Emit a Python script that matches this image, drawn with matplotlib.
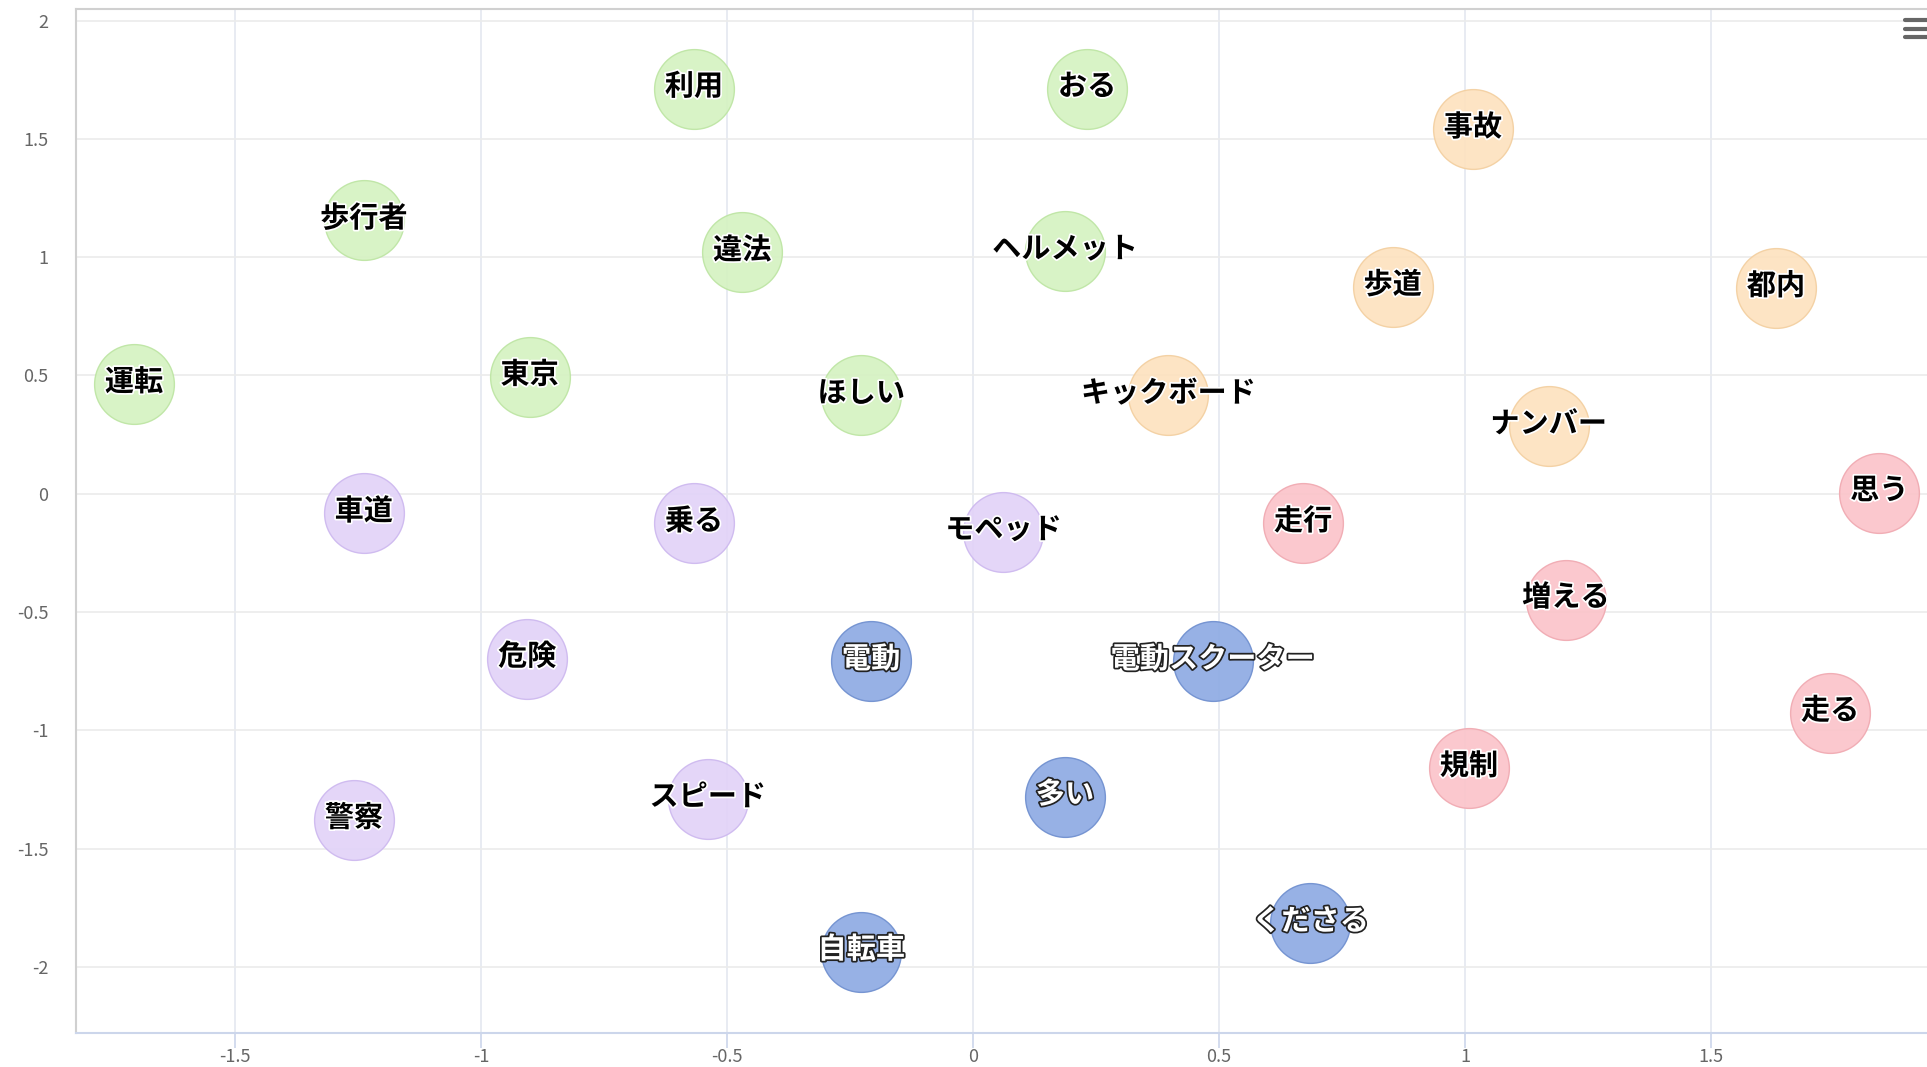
"""Word-embedding style bubble chart (5 clusters of Japanese words)
"""
import matplotlib
matplotlib.use('Agg')
import matplotlib.pyplot as plt
import matplotlib.patheffects as pe
from matplotlib.lines import Line2D

plt.rcParams['font.family'] = ['Noto Sans CJK JP', 'DejaVu Sans']

# Data: one list per cluster
green_words = ['利用', 'おる', '歩行者', '違法', 'ヘルメット', '運転', '東京', 'ほしい']
green_x = [-0.567, 0.232, -1.238, -0.469, 0.187, -1.705, -0.901, -0.227]
green_y = [1.712, 1.712, 1.155, 1.020, 1.025, 0.463, 0.494, 0.416]

orange_words = ['事故', '歩道', '都内', 'キックボード', 'ナンバー']
orange_x = [1.016, 0.853, 1.632, 0.397, 1.170]
orange_y = [1.540, 0.874, 0.869, 0.416, 0.286]

red_words = ['思う', '走行', '増える', '走る', '規制']
red_x = [1.842, 0.671, 1.205, 1.742, 1.008]
red_y = [0.005, -0.125, -0.447, -0.926, -1.160]

purple_words = ['車道', '乗る', 'モペッド', '危険', 'スピード', '警察']
purple_x = [-1.238, -0.567, 0.062, -0.906, -0.539, -1.258]
purple_y = [-0.083, -0.125, -0.161, -0.697, -1.290, -1.379]

blue_words = ['電動', '電動スクーター', '多い', 'くださる', '自転車']
blue_x = [-0.207, 0.487, 0.187, 0.686, -0.227]
blue_y = [-0.708, -0.708, -1.280, -1.816, -1.935]

clusters = [
    (green_words, green_x, green_y, '#d5f2c2', '#bde5a3', False),
    (orange_words, orange_x, orange_y, '#fde2bf', '#f3cfa0', False),
    (red_words, red_x, red_y, '#fbc4ca', '#f0a9b1', False),
    (purple_words, purple_x, purple_y, '#e2d3f8', '#cdb8ef', False),
    (blue_words, blue_x, blue_y, '#8eabe3', '#6f8fcf', True),
]

fig = plt.figure(figsize=(19.27, 10.67), dpi=100)
ax = fig.add_axes([0.0394, 0.0319, 0.9606, 0.9597])
ax.set_xlim(-1.823, 1.939)
ax.set_ylim(-2.279, 2.049)

ax.set_xticks([-1.5, -1, -0.5, 0, 0.5, 1, 1.5])
ax.set_xticklabels(['-1.5', '-1', '-0.5', '0', '0.5', '1', '1.5'])
ax.set_yticks([-2, -1.5, -1, -0.5, 0, 0.5, 1, 1.5, 2])
ax.set_yticklabels(['-2', '-1.5', '-1', '-0.5', '0', '0.5', '1', '1.5', '2'])

ax.grid(axis='x', color='#e4e8f0', linewidth=1.2, zorder=0)
ax.grid(axis='y', color='#ebebeb', linewidth=1.2, zorder=0)
ax.set_axisbelow(True)

ax.tick_params(axis='x', length=11, width=1.2, color='#ccd6eb', labelsize=13,
               labelcolor='#666666', pad=0)
ax.tick_params(axis='y', length=0, labelsize=13, labelcolor='#666666', pad=20)

for side in ['top', 'left']:
    ax.spines[side].set_color('#d0d0d0')
    ax.spines[side].set_linewidth(1.5)
ax.spines['bottom'].set_color('#ccd6eb')
ax.spines['bottom'].set_linewidth(1.5)
ax.spines['right'].set_visible(False)

for words, xs, ys, face, edge, dark in clusters:
    ax.scatter(xs, ys, s=3300, c=face, edgecolors=edge, linewidths=1,
               alpha=0.92, zorder=2)
    for w, x, y in zip(words, xs, ys):
        if dark:
            fc, oc = 'white', '#222222'
        else:
            fc, oc = 'black', 'white'
        ax.text(x, y + 0.01, w, ha='center', va='center', fontsize=21,
                fontweight='bold', color=fc, zorder=3,
                path_effects=[pe.withStroke(linewidth=2.5, foreground=oc)])

# Menu icon (top right)
for yy in [0.981, 0.973, 0.965]:
    fig.add_artist(Line2D([0.9885, 1.0], [yy, yy], color='#666666',
                          linewidth=3, solid_capstyle='round'))

plt.savefig('out.png')
